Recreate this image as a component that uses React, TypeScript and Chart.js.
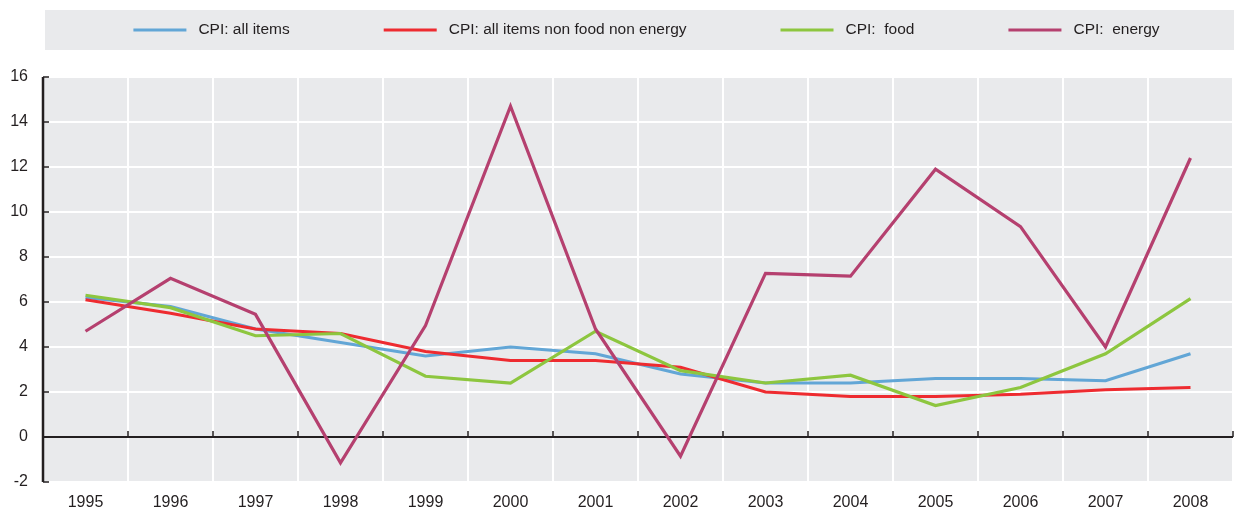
import React, { useEffect, useRef } from "react";
import { Chart, registerables } from "chart.js";

Chart.register(...registerables);

const years = ["1995", "1996", "1997", "1998", "1999", "2000", "2001", "2002", "2003", "2004", "2005", "2006", "2007", "2008"];
const cpiAllItems = [6.2, 5.8, 4.8, 4.2, 3.6, 4.0, 3.7, 2.8, 2.4, 2.4, 2.6, 2.6, 2.5, 3.7];
const cpiCore = [6.1, 5.5, 4.8, 4.6, 3.8, 3.4, 3.4, 3.1, 2.0, 1.8, 1.8, 1.9, 2.1, 2.2];
const cpiFood = [6.3, 5.75, 4.5, 4.6, 2.7, 2.4, 4.7, 2.95, 2.4, 2.75, 1.4, 2.2, 3.7, 6.15];
const cpiEnergy = [4.7, 7.05, 5.45, -1.15, 4.95, 14.7, 4.8, -0.85, 7.27, 7.15, 11.9, 9.35, 4.0, 12.4];
const seriesLabels = ["CPI: all items", "CPI: all items non food non energy", "CPI:  food", "CPI:  energy"];
const seriesColors = ["#62a6d6", "#ee2b30", "#8dc63f", "#b5406f"];

const BG = "#e9eaec";
const FONT_FAMILY = "'Liberation Sans Narrow', 'Arial Narrow', 'Liberation Sans', Arial, sans-serif";

const backgroundAndLegend = {
  id: "backgroundAndLegend",
  beforeDraw(chart: any) {
    const { ctx, chartArea } = chart;
    ctx.save();
    ctx.fillStyle = BG;
    ctx.fillRect(chartArea.left, chartArea.top, chartArea.right - chartArea.left, chartArea.bottom - chartArea.top);
    // legend band
    const boxLeft = 45;
    const boxTop = 10;
    const boxBottom = 50;
    const boxRight = chart.width - 1;
    ctx.fillRect(boxLeft, boxTop, boxRight - boxLeft, boxBottom - boxTop);
    ctx.font = `15.5px ${FONT_FAMILY}`;
    const lineLen = 53;
    const textGap = 12;
    const itemGap = 94;
    const items = chart.data.datasets.map((ds: any) => ({
      label: ds.label,
      color: ds.borderColor,
      w: ctx.measureText(ds.label).width,
    }));
    const total = items.reduce((s: number, it: any) => s + lineLen + textGap + it.w, 0) + itemGap * (items.length - 1);
    let x = (boxLeft + boxRight) / 2 + 7 - total / 2;
    const cy = (boxTop + boxBottom) / 2;
    ctx.textBaseline = "middle";
    ctx.textAlign = "left";
    for (const it of items) {
      ctx.strokeStyle = it.color;
      ctx.lineWidth = 3;
      ctx.beginPath();
      ctx.moveTo(x, cy);
      ctx.lineTo(x + lineLen, cy);
      ctx.stroke();
      x += lineLen + textGap;
      ctx.fillStyle = "#231f20";
      ctx.fillText(it.label, x, cy);
      x += it.w + itemGap;
    }
    ctx.restore();
  },
  beforeDatasetsDraw(chart: any) {
    const { ctx, chartArea, scales } = chart;
    const xs = scales.x;
    const ys = scales.y;
    ctx.save();
    ctx.strokeStyle = "#231f20";
    // zero line
    const y0 = ys.getPixelForValue(0);
    ctx.lineWidth = 2;
    ctx.beginPath();
    ctx.moveTo(chartArea.left, y0);
    ctx.lineTo(chartArea.right, y0);
    ctx.stroke();
    // x ticks on zero line at category boundaries
    ctx.lineWidth = 1.5;
    const n = xs.ticks.length;
    for (let i = 1; i <= n; i++) {
      const px = i < n ? (xs.getPixelForTick(i - 1) + xs.getPixelForTick(i)) / 2 : chartArea.right;
      ctx.beginPath();
      ctx.moveTo(px, y0);
      ctx.lineTo(px, y0 - 6);
      ctx.stroke();
    }
    // y axis line
    ctx.lineWidth = 2.5;
    ctx.beginPath();
    ctx.moveTo(chartArea.left, chartArea.top);
    ctx.lineTo(chartArea.left, chartArea.bottom);
    ctx.stroke();
    ctx.lineWidth = 1.5;
    for (const t of ys.ticks) {
      const py = ys.getPixelForValue(t.value);
      ctx.beginPath();
      ctx.moveTo(chartArea.left, py);
      ctx.lineTo(chartArea.left + 6, py);
      ctx.stroke();
    }
    ctx.restore();
  },
};

export default function App() {
  const canvasRef = useRef<HTMLCanvasElement | null>(null);

  useEffect(() => {
    document.body.style.margin = "0";
    const canvas = canvasRef.current;
    if (!canvas) return;
    const values = [cpiAllItems, cpiCore, cpiFood, cpiEnergy];
    const orders = [3, 2, 1, 0];
    const chart = new Chart(canvas, {
      type: "line",
      data: {
        labels: years,
        datasets: values.map((v, i) => ({
          label: seriesLabels[i],
          data: v,
          borderColor: seriesColors[i],
          backgroundColor: seriesColors[i],
          borderWidth: 3.2,
          pointRadius: 0,
          tension: 0,
          fill: false,
          order: orders[i],
          borderJoinStyle: "miter" as const,
        })),
      },
      options: {
        animation: false,
        responsive: false,
        devicePixelRatio: 1,
        layout: { padding: { top: 77, right: 2, left: 0, bottom: 0 } },
        plugins: {
          legend: { display: false },
          tooltip: { enabled: false },
        },
        scales: {
          x: {
            type: "category",
            offset: true,
            grid: { offset: true, color: "#ffffff", lineWidth: 2, drawTicks: false },
            border: { display: false },
            ticks: {
              autoSkip: false,
              maxRotation: 0,
              padding: 11,
              color: "#231f20",
              font: { family: FONT_FAMILY, size: 16 },
            },
            afterFit(scale: any) {
              scale.height = 28;
            },
          },
          y: {
            min: -2,
            max: 16,
            ticks: {
              stepSize: 2,
              padding: 15,
              color: "#231f20",
              font: { family: FONT_FAMILY, size: 16 },
            },
            grid: { color: "#ffffff", lineWidth: 2, drawTicks: false },
            border: { display: false },
            afterFit(scale: any) {
              scale.width = 43;
            },
          },
        },
      },
      plugins: [backgroundAndLegend],
    });
    return () => chart.destroy();
  }, []);

  return (
    <div style={{ width: 1235, height: 510 }}>
      <canvas ref={canvasRef} width={1235} height={510} style={{ display: "block" }} />
    </div>
  );
}
